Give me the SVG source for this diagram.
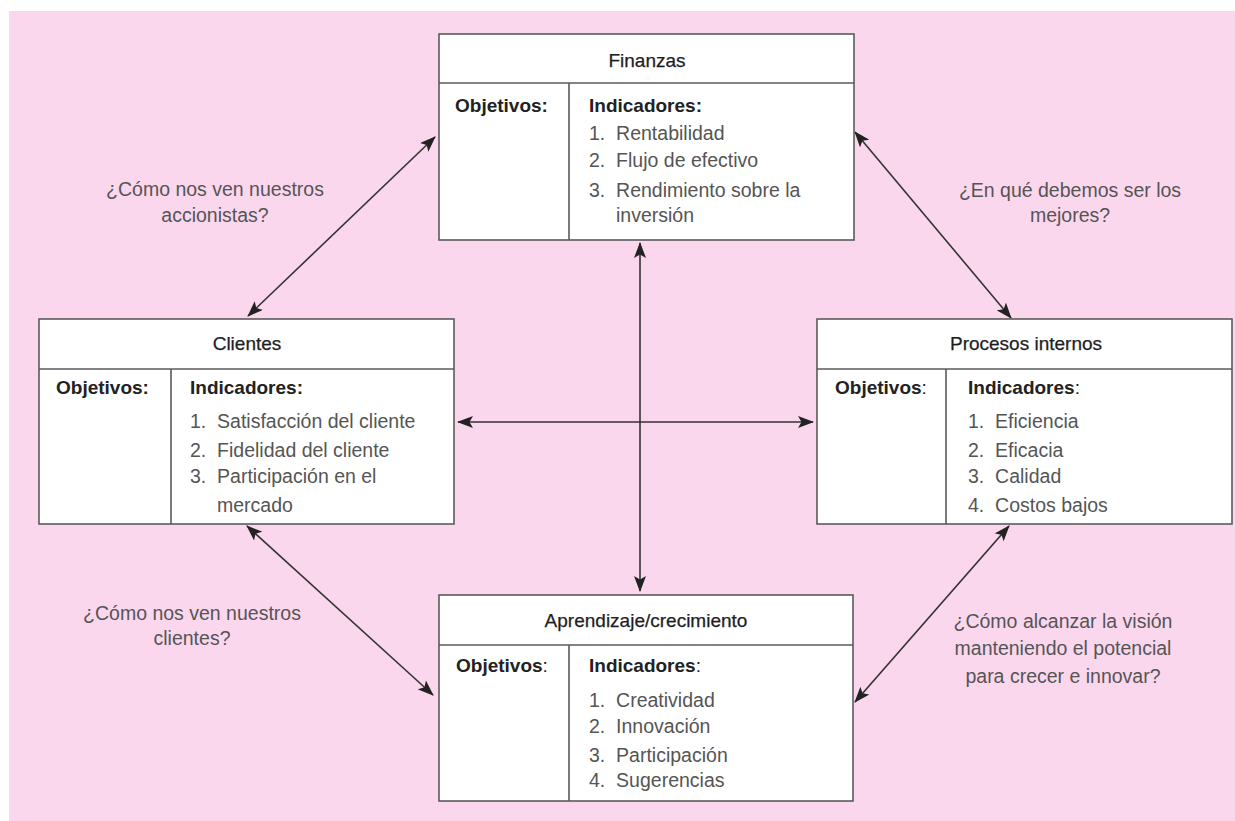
<svg xmlns="http://www.w3.org/2000/svg" width="1235" height="821" viewBox="0 0 1235 821">
  <defs>
    <style>
      .box { fill: #ffffff; stroke: #5a5a5a; stroke-width: 1.6; }
      .sep { stroke: #5a5a5a; stroke-width: 1.6; fill: none; }
      .title { font-family: "Liberation Sans", Arial, sans-serif; font-size: 19px; fill: #1e1e1e; text-anchor: middle; stroke: #1e1e1e; stroke-width: 0.25; }
      .hdr { font-family: "Liberation Sans", Arial, sans-serif; font-size: 19px; font-weight: bold; fill: #222222; }
      .light { font-weight: normal; }
      .item { font-family: "Liberation Sans", Arial, sans-serif; font-size: 19.5px; fill: #555555; white-space: pre; }
      .lbl { font-family: "Liberation Sans", Arial, sans-serif; font-size: 19.5px; fill: #555555; text-anchor: middle; }
      .conn { stroke: #333333; stroke-width: 1.6; fill: none; marker-start: url(#arr); marker-end: url(#arr); }
    </style>
    <marker id="arr" viewBox="0 0 16 12" refX="15" refY="6" markerWidth="16" markerHeight="12" markerUnits="userSpaceOnUse" orient="auto-start-reverse">
      <path d="M0,0 L16,6 L0,12 L3.5,6 z" fill="#222222"/>
    </marker>
  </defs>

  <rect x="9" y="11" width="1226" height="810" fill="#fbd7ee"/>

  <g id="connectors">
    <line class="conn" x1="435" y1="137" x2="248" y2="316"/>
    <line class="conn" x1="855" y1="132" x2="1011" y2="318"/>
    <line class="conn" x1="247" y1="526" x2="433" y2="695"/>
    <line class="conn" x1="1009" y1="526" x2="855" y2="702"/>
    <line class="conn" x1="458" y1="422" x2="813" y2="422"/>
    <line class="conn" x1="640" y1="243" x2="640" y2="591"/>
  </g>

  <g id="finanzas">
    <rect class="box" x="439" y="34" width="415" height="206"/>
    <line class="sep" x1="439" y1="83" x2="854" y2="83"/>
    <line class="sep" x1="569" y1="83" x2="569" y2="240"/>
    <text class="title" x="647" y="67">Finanzas</text>
    <text class="hdr" x="455" y="112">Objetivos:</text>
    <text class="hdr" x="589" y="112">Indicadores:</text>
    <text class="item" x="589" y="140">1.  Rentabilidad</text>
    <text class="item" x="589" y="167">2.  Flujo de efectivo</text>
    <text class="item" x="589" y="197">3.  Rendimiento sobre la</text>
    <text class="item" x="616" y="222">inversión</text>
  </g>

  <g id="clientes">
    <rect class="box" x="39" y="319" width="415" height="205"/>
    <line class="sep" x1="39" y1="369" x2="454" y2="369"/>
    <line class="sep" x1="171" y1="369" x2="171" y2="524"/>
    <text class="title" x="247" y="350">Clientes</text>
    <text class="hdr" x="56" y="394">Objetivos:</text>
    <text class="hdr" x="190" y="394">Indicadores:</text>
    <text class="item" x="190" y="428">1.  Satisfacción del cliente</text>
    <text class="item" x="190" y="457">2.  Fidelidad del cliente</text>
    <text class="item" x="190" y="483">3.  Participación en el</text>
    <text class="item" x="217" y="512">mercado</text>
  </g>

  <g id="procesos">
    <rect class="box" x="817" y="319" width="415" height="205"/>
    <line class="sep" x1="817" y1="369" x2="1232" y2="369"/>
    <line class="sep" x1="946" y1="369" x2="946" y2="524"/>
    <text class="title" x="1026" y="350">Procesos internos</text>
    <text class="hdr" x="835" y="394">Objetivos<tspan class="light">:</tspan></text>
    <text class="hdr" x="968" y="394">Indicadores<tspan class="light">:</tspan></text>
    <text class="item" x="968" y="428">1.  Eficiencia</text>
    <text class="item" x="968" y="457">2.  Eficacia</text>
    <text class="item" x="968" y="483">3.  Calidad</text>
    <text class="item" x="968" y="512">4.  Costos bajos</text>
  </g>

  <g id="aprendizaje">
    <rect class="box" x="439" y="595" width="414" height="206"/>
    <line class="sep" x1="439" y1="645" x2="853" y2="645"/>
    <line class="sep" x1="569" y1="645" x2="569" y2="801"/>
    <text class="title" x="646" y="627">Aprendizaje/crecimiento</text>
    <text class="hdr" x="456" y="672">Objetivos<tspan class="light">:</tspan></text>
    <text class="hdr" x="589" y="672">Indicadores<tspan class="light">:</tspan></text>
    <text class="item" x="589" y="707">1.  Creatividad</text>
    <text class="item" x="589" y="733">2.  Innovación</text>
    <text class="item" x="589" y="762">3.  Participación</text>
    <text class="item" x="589" y="787">4.  Sugerencias</text>
  </g>

  <g id="labels">
    <text class="lbl" x="215" y="196">¿Cómo nos ven nuestros</text>
    <text class="lbl" x="215" y="222">accionistas?</text>
    <text class="lbl" x="1070" y="197">¿En qué debemos ser los</text>
    <text class="lbl" x="1070" y="222">mejores?</text>
    <text class="lbl" x="192" y="620">¿Cómo nos ven nuestros</text>
    <text class="lbl" x="192" y="645">clientes?</text>
    <text class="lbl" x="1063" y="628">¿Cómo alcanzar la visión</text>
    <text class="lbl" x="1063" y="655">manteniendo el potencial</text>
    <text class="lbl" x="1063" y="683">para crecer e innovar?</text>
  </g>
</svg>
